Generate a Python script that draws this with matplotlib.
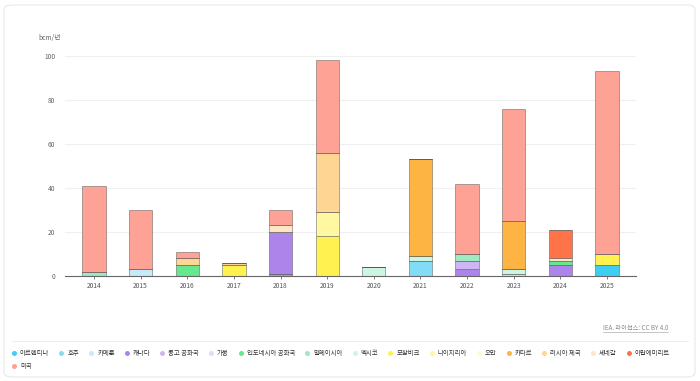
import matplotlib.pyplot as plt
import numpy as np
from matplotlib.patches import FancyBboxPatch
from matplotlib.lines import Line2D

plt.rcParams['font.family'] = ['Noto Sans CJK KR', 'DejaVu Sans']

# 연도별 LNG 수출 용량 (bcm/년)
years = ['2014', '2015', '2016', '2017', '2018', '2019',
         '2020', '2021', '2022', '2023', '2024', '2025']

countries = ['아르헨티나', '호주', '카메룬', '캐나다', '콩고 공화국', '가봉',
             '인도네시아 공화국', '말레이시아', '멕시코', '모잠비크', '나이지리아',
             '오만', '카타르', '러시아 제국', '세네갈', '아랍에미리트', '미국']

colors = ['#3dcdf5', '#82dcf5', '#c4ebf7', '#ac84ea', '#cdb6f3', '#e4daf6',
          '#66e98e', '#9eeac2', '#cdf6e2', '#fff250', '#fff7a2',
          '#fff9d6', '#fdb443', '#fed592', '#fde6c6', '#ff7349', '#fda294']

#            14  15  16  17  18  19  20  21  22  23  24  25
values = [
    [0,  0,  0,  0,  1,  0,  0,  0,  0,  0,  0,  5],    # 아르헨티나
    [0,  0,  0,  0,  0,  0,  0,  7,  0,  0,  0,  0],    # 호주
    [0,  3,  0,  0,  0,  0,  0,  0,  0,  0,  0,  0],    # 카메룬
    [0,  0,  0,  0, 19,  0,  0,  0,  3,  0,  5,  0],    # 캐나다
    [0,  0,  0,  0,  0,  0,  0,  0,  4,  0,  0,  0],    # 콩고 공화국
    [0,  0,  0,  0,  0,  0,  0,  0,  0,  1,  0,  0],    # 가봉
    [0,  0,  5,  0,  0,  0,  0,  0,  0,  0,  2,  0],    # 인도네시아 공화국
    [2,  0,  0,  0,  0,  0,  0,  0,  3,  0,  0,  0],    # 말레이시아
    [0,  0,  0,  0,  0,  0,  4,  2,  0,  2,  0,  0],    # 멕시코
    [0,  0,  0,  5,  0, 18,  0,  0,  0,  0,  0,  5],    # 모잠비크
    [0,  0,  0,  0,  0, 11,  0,  0,  0,  0,  0,  0],    # 나이지리아
    [0,  0,  0,  0,  0,  0,  0,  0,  0,  0,  0,  0],    # 오만
    [0,  0,  0,  0,  0,  0,  0, 44,  0, 22,  0,  0],    # 카타르
    [0,  0,  3,  1,  0, 27,  0,  0,  0,  0,  0,  0],    # 러시아 제국
    [0,  0,  0,  0,  3,  0,  0,  0,  0,  0,  1,  0],    # 세네갈
    [0,  0,  0,  0,  0,  0,  0,  0,  0,  0, 13,  0],    # 아랍에미리트
    [39, 27, 3,  0,  7, 42,  0,  0, 32, 51,  0, 83],    # 미국
]

W, H = 700, 381
fig = plt.figure(figsize=(W / 100, H / 100), dpi=100)

# 카드 테두리
card = FancyBboxPatch((4 / W, 4 / H), (W - 9) / W, (H - 9) / H,
                      boxstyle='round,pad=0,rounding_size=0.012',
                      transform=fig.transFigure, facecolor='white',
                      edgecolor='#e8e8e8', linewidth=0.8, zorder=-10)
fig.patches.append(card)

ax = fig.add_axes([65 / W, 1 - 276 / H, (636 - 65) / W, (276 - 56) / H])
ax.set_facecolor('none')

x = np.arange(len(years))
bottom = np.zeros(len(years))
for name, col, vals in zip(countries, colors, values):
    vals = np.array(vals, dtype=float)
    ax.bar(x, vals, width=0.5, bottom=bottom, color=col,
           edgecolor=(0.35, 0.35, 0.35, 0.5), linewidth=0.7, zorder=3)
    bottom += vals

ax.set_xlim(-0.62, len(years) - 1 + 0.62)
ax.set_ylim(0, 100)
ax.set_yticks(range(0, 101, 20))
ax.set_xticks(x)
ax.set_xticklabels(years)
ax.grid(axis='y', color='#f0f0f0', linewidth=0.8, zorder=0)
for s in ['top', 'right', 'left']:
    ax.spines[s].set_visible(False)
ax.spines['bottom'].set_color('#666666')
ax.spines['bottom'].set_linewidth(0.8)
ax.spines['bottom'].set_zorder(4)
ax.tick_params(axis='y', length=0, pad=7, labelsize=4.8, labelcolor='#666666')
ax.tick_params(axis='x', length=2.5, width=0.6, color='#666666', pad=2,
               labelsize=4.8, labelcolor='#555555')

fig.text(38 / W, 1 - 38 / H, 'bcm/년', fontsize=4.8, color='#666666',
         ha='left', va='center')

# 출처
src = fig.text(668 / W, 1 - 328 / H, 'IEA. 라이선스: CC BY 4.0', fontsize=4.5,
               color='#888888', ha='right', va='center')
fig.canvas.draw()
r = fig.canvas.get_renderer()
bb = src.get_window_extent(r)
fig.add_artist(Line2D([bb.x0 / W, bb.x1 / W], [(bb.y0 + 0.5) / H] * 2,
                      transform=fig.transFigure, color='#999999', linewidth=0.4))

# 구분선
fig.add_artist(Line2D([12 / W, 688 / W], [1 - 341 / H] * 2,
                      transform=fig.transFigure, color='#eeeeee', linewidth=0.8))

# 범례
rows = [list(range(16)), [16]]
row_y = [353, 366]
for items, yy in zip(rows, row_y):
    px = 14
    for i in items:
        fig.add_artist(Line2D([px / W], [1 - yy / H], transform=fig.transFigure,
                              marker='o', markersize=3.6, linestyle='none',
                              markerfacecolor=colors[i], markeredgecolor='none'))
        t = fig.text((px + 6) / W, 1 - yy / H, countries[i], fontsize=4.6,
                     color='#333333', fontweight='medium', ha='left', va='center')
        tb = t.get_window_extent(r)
        px = tb.x1 + 12

fig.savefig('out.png', dpi=100)
